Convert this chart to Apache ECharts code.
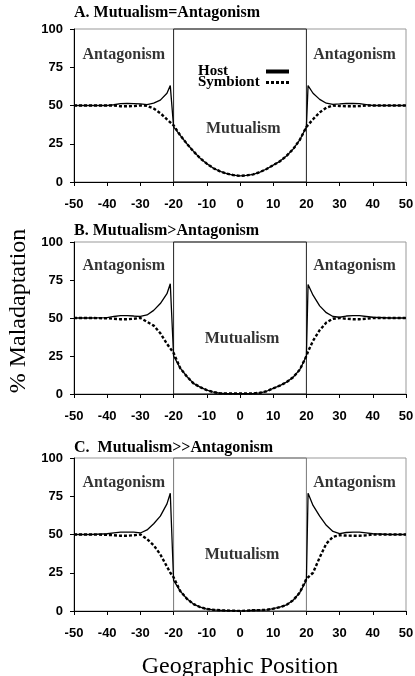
<!DOCTYPE html>
<html>
<head>
<meta charset="utf-8">
<script src="https://cdn.jsdelivr.net/npm/echarts@6/dist/echarts.min.js"></script>
<style>
html,body{margin:0;padding:0;background:#fff;}
#chart{width:415px;height:676px;}
</style>
</head>
<body>
<div id="chart"></div>
<script>
// Geographic positions (shared x values)
const positions = [-50,-45,-40,-38,-36,-34,-32,-30,-28,-26,-24,-22,-21,-20,-18,-16,-14,-12,-10,-8,-6,-4,-2,0,2,4,6,8,10,12,14,16,18,20,20.5,22,24,26,28,30,32,34,36,38,40,45,50];

// Panel A: Mutualism=Antagonism
const hostA = [50,50,50,50.5,51.2,51.3,51.2,51,50.6,51.5,53.5,58,63,36,30.5,25,20,15.5,12,9,7,5.5,4.5,4,4.3,5,6.5,8.5,11,13.5,17,21.5,27.5,36,63,58,54,51.5,50.8,51,51.3,51.3,51.2,50.6,50,50,50];
const symbA = [50,50,50,50,49.5,49.5,49.6,50,49.8,48,45,41,39,37,30.5,25,20,15.5,12,9,7,5.5,4.5,4,4.3,5,6.5,8.5,11,13.5,17,21.5,27.5,36,37,41,45.5,48.5,50,49.7,49.5,49.5,49.6,50,50,50,50];

// Panel B: Mutualism>Antagonism
const hostB = [50,50,50.3,51,51.5,51.5,51.3,51,52,55,59.5,66,72.5,25,17,11.5,7,4.5,2.6,1.2,0.5,0.3,0.3,0.3,0.3,0.4,0.8,1.8,3.7,5.5,7.8,11,16,25,72,65,58,53.5,51,50.5,51.3,51.5,51.5,51,50.5,50,50];
const symbB = [50,50,49.8,49.5,49.2,49.2,49.5,50,47.5,45,40,33,30,27,17,11.5,7,4.5,2.6,1.2,0.5,0.3,0.3,0.3,0.3,0.4,0.8,1.8,3.7,5.5,7.8,11,16,25,28,35,42,47,49.5,50,49.5,49.2,49.2,49.5,50,50,50];

// Panel C: Mutualism>>Antagonism
const hostC = [50,50,50.5,51,51.5,51.5,51.5,51,53,57,62,70,77,20,13,8,4.5,2.5,1.3,0.8,0.5,0.3,0.2,0,0.2,0.5,0.6,0.8,1.5,2.5,4,7,12,20,77,69,62,56,52,50.5,51.3,51.5,51.5,51,50.5,50,50];
const symbC = [50,50,49.8,49.5,49.2,49.2,49.5,50,47,43,37,29,25,22,13,8,4.5,2.5,1.3,0.8,0.5,0.3,0.2,0,0.2,0.5,0.6,0.8,1.5,2.5,4,7,12,21,22,25,35,44,48.5,49.5,49.3,49.2,49.2,49.5,50,50,50];

// Tick values
const xTicks = {min: -50, max: 50, interval: 10};
const yTicks = {min: 0, max: 100, interval: 25};

// Region boundaries (mutualism zone)
const zone = [-20, 20];

// Panel titles and region labels
const panelTitles = ['A. Mutualism=Antagonism', 'B. Mutualism>Antagonism', 'C.  Mutualism>>Antagonism'];
const regionLabelsA = [[-35, 83, 'Antagonism'], [34.5, 83, 'Antagonism'], [1, 35, 'Mutualism']];
const regionLabelsB = [[-35, 84.5, 'Antagonism'], [34.5, 84.5, 'Antagonism'], [0.6, 36.5, 'Mutualism']];
const regionLabelsC = [[-35, 84, 'Antagonism'], [34.5, 84, 'Antagonism'], [0.6, 36.5, 'Mutualism']];

const hosts = [hostA, hostB, hostC];
const symbs = [symbA, symbB, symbC];
const regionLabels = [regionLabelsA, regionLabelsB, regionLabelsC];

const serif = 'Liberation Serif, Times New Roman, serif';
const sans = 'Liberation Sans, Arial, sans-serif';

const grids = [
  {left: 74, width: 332, top: 29, height: 153},
  {left: 74, width: 332, top: 242, height: 152},
  {left: 74, width: 332, top: 458, height: 153}
];
const titleTops = [5, 223, 440];
const zoneColors = ['#222', '#222', '#777'];

const pair = (ys) => positions.map((x, i) => [x, ys[i]]);

const option = {
  animation: false,
  backgroundColor: '#fff',
  title: panelTitles.map((t, i) => ({
    text: t, left: 74, top: titleTops[i], padding: 0,
    textStyle: {fontFamily: serif, fontWeight: 'bold', fontSize: 16, color: '#000'}
  })),
  grid: grids.map(g => Object.assign({show: true, borderColor: '#999', borderWidth: 1, backgroundColor: 'transparent', containLabel: false, outerBoundsMode: 'none'}, g)),
  legend: {
    data: [
      {name: 'Host', lineStyle: {width: 4, color: '#000', type: 'solid'}, itemStyle: {opacity: 0}},
      {name: 'Symbiont', lineStyle: {width: 3, color: '#000', type: [3, 2]}, itemStyle: {opacity: 0}}
    ],
    orient: 'vertical', align: 'right', left: 198, top: 64,
    itemWidth: 23, itemHeight: 9, itemGap: -4, padding: 0,
    selectedMode: false,
    formatter: '{t|{name}}',
    textStyle: {
      rich: {t: {width: 63, align: 'left', fontFamily: serif, fontWeight: 'bold', fontSize: 15, lineHeight: 10, color: '#000'}}
    }
  },
  xAxis: grids.map((g, i) => ({
    type: 'value', gridIndex: i, min: xTicks.min, max: xTicks.max, interval: xTicks.interval,
    axisLine: {show: true, onZero: false, lineStyle: {color: '#000', width: 1}},
    axisTick: {show: true, length: 4, lineStyle: {color: '#000'}},
    splitLine: {show: false},
    axisLabel: {margin: 16, fontFamily: sans, fontWeight: 'bold', fontSize: 13, color: '#000'},
    name: i === 2 ? 'Geographic Position' : '',
    nameLocation: 'middle', nameGap: 44,
    nameTextStyle: {fontFamily: serif, fontSize: 24, color: '#000'}
  })),
  yAxis: grids.map((g, i) => ({
    type: 'value', gridIndex: i, min: yTicks.min, max: yTicks.max, interval: yTicks.interval,
    axisLine: {show: true, onZero: false, lineStyle: {color: '#000', width: 1}},
    axisTick: {show: true, length: 4, lineStyle: {color: '#000'}},
    splitLine: {show: false},
    axisLabel: {margin: 11, fontFamily: sans, fontWeight: 'bold', fontSize: 13, color: '#000'},
    name: i === 1 ? '% Maladaptation' : '',
    nameLocation: 'middle', nameGap: 42, nameRotate: 90,
    nameTextStyle: {fontFamily: serif, fontSize: 24, color: '#000', padding: [0, 0, 0, 14]}
  })),
  series: []
};

for (let i = 0; i < 3; i++) {
  option.series.push({
    name: 'Symbiont', type: 'line', xAxisIndex: i, yAxisIndex: i,
    data: pair(symbs[i]), showSymbol: false, symbol: 'none',
    itemStyle: {color: '#000'},
    lineStyle: {color: '#000', width: 2.4, type: [3, 2]}, z: 3
  });
  option.series.push({
    name: 'Host', type: 'line', xAxisIndex: i, yAxisIndex: i,
    data: pair(hosts[i]), showSymbol: false, symbol: 'none',
    itemStyle: {color: '#000'},
    lineStyle: {color: '#000', width: 1.3}, z: 4,
    markArea: {
      silent: true,
      itemStyle: {color: 'rgba(0,0,0,0)', borderColor: zoneColors[i], borderWidth: 1},
      data: [[{xAxis: zone[0], yAxis: yTicks.max}, {xAxis: zone[1], yAxis: yTicks.min}]]
    }
  });
  option.series.push({
    name: 'labels' + i, type: 'scatter', xAxisIndex: i, yAxisIndex: i,
    data: regionLabels[i].map(d => ({value: [d[0], d[1]], name: d[2]})),
    symbolSize: 0, silent: true, z: 5,
    label: {show: true, position: 'inside', formatter: '{b}', fontFamily: serif, fontWeight: 'bold', fontSize: 16, color: '#000'}
  });
}

const chart = echarts.init(document.getElementById('chart'), null, {renderer: 'canvas'});
chart.setOption(option);
</script>
</body>
</html>
